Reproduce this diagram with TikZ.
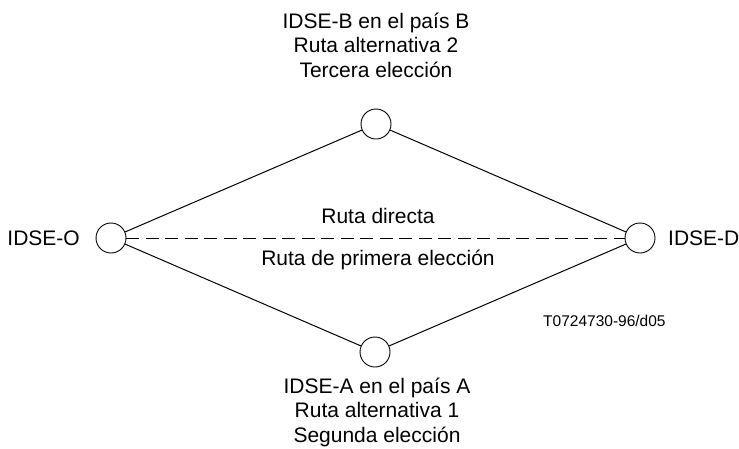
\documentclass[tikz,border=0pt]{standalone}
\usepackage{fontspec}
\setmainfont{Liberation Sans}
\usetikzlibrary{positioning}

\begin{document}
\begin{tikzpicture}[x=1pt, y=-1pt,
    exchange/.style={circle, draw, line width=0.9pt, minimum size=30pt, inner sep=0pt},
    route/.style={line width=1pt},
    label/.style={font=\fontsize{21}{24.5}\selectfont, inner sep=0pt, align=center},
    ref/.style={font=\fontsize{15.5}{18}\selectfont, inner sep=0pt}]
    \useasboundingbox (0,0) rectangle (739,448);

    % Exchanges
    \node[exchange] (idseO) at (111,238) {};
    \node[exchange] (idseD) at (640,238) {};
    \node[exchange] (idseB) at (376,124) {};
    \node[exchange] (idseA) at (375,352) {};

    % Alternative routes
    \draw[route] (idseO) -- (idseB) -- (idseD);
    \draw[route] (idseO) -- (idseA) -- (idseD);

    % Direct route
    \draw[route, dash pattern=on 13pt off 6.5pt] (idseO) -- (idseD);

    % Labels
    \node[label, anchor=base east] (lblO) at (80,245) {IDSE-O};
    \node[label, anchor=base west] (lblD) at (668,245) {IDSE-D};
    \node[label, anchor=base] (lblB) at (376,77)
        {IDSE-B en el país B\\Ruta alternativa 2\\Tercera elección};
    \node[label, anchor=base] (lblA) at (377,442)
        {IDSE-A en el país A\\Ruta alternativa 1\\Segunda elección};
    \node[label, anchor=base] (lblDir) at (378,223) {Ruta directa};
    \node[label, anchor=base] (lblPri) at (378,265) {Ruta de primera elección};

    % Reference
    \node[ref, anchor=base west] (code) at (543,326) {T0724730-96/d05};
\end{tikzpicture}
\end{document}
